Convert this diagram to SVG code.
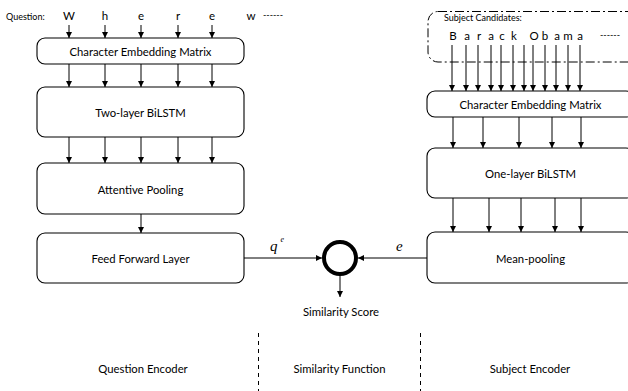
<svg xmlns="http://www.w3.org/2000/svg" width="628" height="391" viewBox="0 0 628 391">
<defs>
<style>
.box{fill:#fff;stroke:#000;stroke-width:1.1}
.t{font-family:Lato,"Liberation Sans",sans-serif;font-size:11.3px;fill:#000;text-anchor:middle;dominant-baseline:central}
.s{font-family:Lato,"Liberation Sans",sans-serif;font-size:9px;fill:#000}
.ch{font-family:Lato,"Liberation Sans",sans-serif;font-size:11.5px;fill:#000;text-anchor:middle}
.m{font-family:"Liberation Serif",serif;font-style:italic;fill:#000}
.a{stroke:#000;stroke-width:1;fill:none;marker-end:url(#ah)}
.dash{stroke:#000;stroke-width:1;fill:none;stroke-dasharray:4 4}
</style>
<marker id="ah" viewBox="0 0 6 6" refX="6" refY="3" markerWidth="6" markerHeight="6" markerUnits="userSpaceOnUse" orient="auto">
<path d="M0,0 L6,3 L0,6 z" fill="#000"/>
</marker>
</defs>
<rect width="628" height="391" fill="#fff"/>

<g id="question-input">
<text class="s" x="6" y="20">Question:</text>
<text class="ch" x="69" y="20">W</text>
<text class="ch" x="105" y="20">h</text>
<text class="ch" x="141" y="20">e</text>
<text class="ch" x="178" y="20">r</text>
<text class="ch" x="212" y="20">e</text>
<text class="ch" x="251" y="20">w</text>
<text class="s" x="263" y="18">------</text>
</g>

<g id="q-char-emb">
<rect class="box" x="37" y="38" width="207" height="26" rx="8"/>
<text class="t" x="140.5" y="51">Character Embedding Matrix</text>
</g>
<g id="q-bilstm">
<rect class="box" x="37" y="87" width="207" height="50" rx="8"/>
<text class="t" x="140.5" y="112">Two-layer BiLSTM</text>
</g>
<g id="q-attn">
<rect class="box" x="37" y="163" width="207" height="51" rx="8"/>
<text class="t" x="140.5" y="189">Attentive Pooling</text>
</g>
<g id="q-ff">
<rect class="box" x="37" y="233" width="207" height="50" rx="8"/>
<text class="t" x="140.5" y="258">Feed Forward Layer</text>
</g>

<g id="subject-candidates">
<rect x="428" y="11.5" width="212" height="50.5" rx="10" fill="none" stroke="#000" stroke-width="1" stroke-dasharray="9 3 2 3"/>
<text class="s" x="444" y="21">Subject Candidates:</text>
<text class="ch" x="453" y="40">B</text>
<text class="ch" x="467" y="40">a</text>
<text class="ch" x="479" y="40">r</text>
<text class="ch" x="491" y="40">a</text>
<text class="ch" x="502" y="40">c</text>
<text class="ch" x="514" y="40">k</text>
<text class="ch" x="534" y="40">O</text>
<text class="ch" x="545" y="40">b</text>
<text class="ch" x="557" y="40">a</text>
<text class="ch" x="568" y="40">m</text>
<text class="ch" x="580" y="40">a</text>
<text class="s" x="600" y="38">------</text>
</g>

<g id="s-char-emb">
<rect class="box" x="427" y="91" width="207" height="26" rx="8"/>
<text class="t" x="530.5" y="104">Character Embedding Matrix</text>
</g>
<g id="s-bilstm">
<rect class="box" x="427" y="148" width="207" height="50" rx="8"/>
<text class="t" x="530.5" y="173">One-layer BiLSTM</text>
</g>
<g id="s-mean">
<rect class="box" x="427" y="232" width="207" height="51" rx="8"/>
<text class="t" x="530.5" y="258">Mean-pooling</text>
</g>

<g id="similarity">
<circle cx="340" cy="258" r="16" fill="#fff" stroke="#000" stroke-width="4"/>
<text class="t" x="341" y="311">Similarity Score</text>
</g>

<g id="connectors">
<line class="a" x1="69" y1="25" x2="69" y2="38"/>
<line class="a" x1="105" y1="25" x2="105" y2="38"/>
<line class="a" x1="141" y1="25" x2="141" y2="38"/>
<line class="a" x1="178" y1="25" x2="178" y2="38"/>
<line class="a" x1="212" y1="25" x2="212" y2="38"/>
<line class="a" x1="69" y1="64" x2="69" y2="87"/>
<line class="a" x1="105" y1="64" x2="105" y2="87"/>
<line class="a" x1="141" y1="64" x2="141" y2="87"/>
<line class="a" x1="178" y1="64" x2="178" y2="87"/>
<line class="a" x1="212" y1="64" x2="212" y2="87"/>
<line class="a" x1="69" y1="137" x2="69" y2="163"/>
<line class="a" x1="105" y1="137" x2="105" y2="163"/>
<line class="a" x1="141" y1="137" x2="141" y2="163"/>
<line class="a" x1="178" y1="137" x2="178" y2="163"/>
<line class="a" x1="212" y1="137" x2="212" y2="163"/>
<line class="a" x1="141" y1="214" x2="141" y2="233"/>
<line class="a" x1="452" y1="45" x2="452" y2="91"/>
<line class="a" x1="466" y1="45" x2="466" y2="91"/>
<line class="a" x1="478" y1="45" x2="478" y2="91"/>
<line class="a" x1="491" y1="45" x2="491" y2="91"/>
<line class="a" x1="501" y1="45" x2="501" y2="91"/>
<line class="a" x1="513" y1="45" x2="513" y2="91"/>
<line class="a" x1="524" y1="45" x2="524" y2="91"/>
<line class="a" x1="533" y1="45" x2="533" y2="91"/>
<line class="a" x1="545" y1="45" x2="545" y2="91"/>
<line class="a" x1="556" y1="45" x2="556" y2="91"/>
<line class="a" x1="568" y1="45" x2="568" y2="91"/>
<line class="a" x1="580" y1="45" x2="580" y2="91"/>
<line class="a" x1="453" y1="117" x2="453" y2="148"/>
<line class="a" x1="483" y1="117" x2="483" y2="148"/>
<line class="a" x1="519" y1="117" x2="519" y2="148"/>
<line class="a" x1="552" y1="117" x2="552" y2="148"/>
<line class="a" x1="581" y1="117" x2="581" y2="148"/>
<line class="a" x1="453" y1="198" x2="453" y2="232"/>
<line class="a" x1="489" y1="198" x2="489" y2="232"/>
<line class="a" x1="521" y1="198" x2="521" y2="232"/>
<line class="a" x1="555" y1="198" x2="555" y2="232"/>
<line class="a" x1="581" y1="198" x2="581" y2="232"/>
<line class="a" x1="244" y1="258" x2="322" y2="258"/>
<line class="a" x1="427" y1="258" x2="358" y2="258"/>
<line class="a" x1="340" y1="276" x2="340" y2="297"/>
<text class="m" x="270" y="251" font-size="15">q</text>
<text class="m" x="280.5" y="242" font-size="8">e</text>
<text class="m" x="396" y="251" font-size="15">e</text>
</g>

<g id="sections">
<line class="dash" x1="258.5" y1="333" x2="258.5" y2="391"/>
<line class="dash" x1="420.5" y1="333" x2="420.5" y2="391"/>
<text class="t" x="143" y="368">Question Encoder</text>
<text class="t" x="339.5" y="368">Similarity Function</text>
<text class="t" x="530" y="368">Subject Encoder</text>
</g>
</svg>
